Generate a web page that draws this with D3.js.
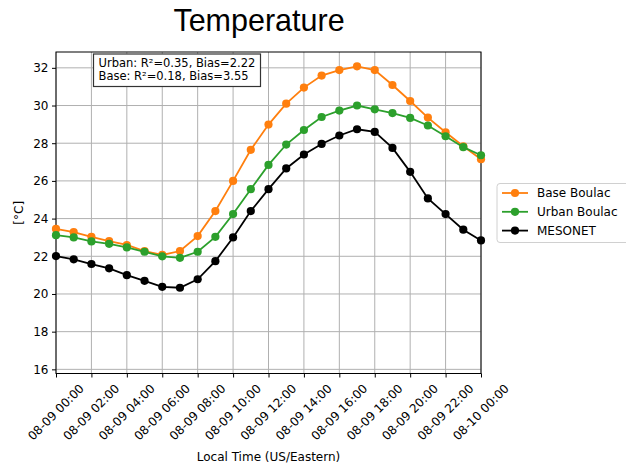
<!DOCTYPE html>
<html>
<head>
<meta charset="utf-8">
<script src="https://cdn.jsdelivr.net/npm/d3@7"></script>
<style>
  html, body { margin: 0; padding: 0; background: #fff; }
  svg { display: block; }
  text { font-family: "DejaVu Sans", sans-serif; fill: #000; }
</style>
</head>
<body>
<svg id="chart" width="626" height="467"></svg>
<script>
// Hourly temperature, 08-09 00:00 through 08-10 00:00 (US/Eastern)
const hours = d3.range(0, 25);
const baseBoulac = [23.45, 23.28, 23.03, 22.81, 22.60, 22.28, 22.07, 22.28, 23.07, 24.40, 26.00, 27.65, 28.99,
                    30.10, 30.95, 31.59, 31.88, 32.08, 31.88, 31.09, 30.24, 29.36, 28.58, 27.84, 27.15];
const urbanBoulac = [23.12, 23.00, 22.79, 22.66, 22.47, 22.24, 22.00, 21.92, 22.24, 23.03, 24.24, 25.56, 26.85,
                     27.93, 28.70, 29.39, 29.73, 30.00, 29.80, 29.60, 29.34, 28.94, 28.37, 27.79, 27.36];
const mesonet = [22.01, 21.84, 21.59, 21.36, 21.00, 20.70, 20.38, 20.33, 20.78, 21.74, 23.00, 24.40, 25.56,
                 26.66, 27.40, 27.96, 28.41, 28.74, 28.60, 27.75, 26.48, 25.07, 24.24, 23.41, 22.84];
const seriesNames = ["Base Boulac", "Urban Boulac", "MESONET"];
const seriesColors = ["#ff7f0e", "#2ca02c", "#000000"];
const yTicks = [16, 18, 20, 22, 24, 26, 28, 30, 32];
const xTickHours = d3.range(0, 25, 2);
const xTickLabels = ["08-09 00:00", "08-09 02:00", "08-09 04:00", "08-09 06:00", "08-09 08:00", "08-09 10:00",
                     "08-09 12:00", "08-09 14:00", "08-09 16:00", "08-09 18:00", "08-09 20:00", "08-09 22:00",
                     "08-10 00:00"];
const statLines = ["Urban: R\u00b2=0.35, Bias=2.22", "Base: R\u00b2=0.18, Bias=3.55"];

const svg = d3.select("#chart");
const pLeft = 56, pRight = 481, pTop = 52, pBottom = 373.5;
const fs = 12;

const x = d3.scaleLinear().domain([0, 24]).range([pLeft, pRight]);
const y = d3.scaleLinear().domain([15.78, 32.84]).range([pBottom, pTop]);

// Title
svg.append("text")
  .attr("x", 259).attr("y", 31)
  .attr("text-anchor", "middle")
  .style("font-family", "'Liberation Sans', Arial, sans-serif")
  .style("font-size", "30.5px")
  .text("Temperature");

// Grid
const grid = svg.append("g").attr("stroke", "#b0b0b0").attr("stroke-width", 1);
grid.selectAll("line.gx").data(xTickHours).join("line")
  .attr("x1", d => x(d)).attr("x2", d => x(d)).attr("y1", pTop).attr("y2", pBottom);
grid.selectAll("line.gy").data(yTicks).join("line")
  .attr("x1", pLeft).attr("x2", pRight).attr("y1", d => y(d)).attr("y2", d => y(d));

// Axes
const yAxis = d3.axisLeft(y).tickValues(yTicks).tickSize(4).tickPadding(3.5);
const gy = svg.append("g").attr("transform", `translate(${pLeft},0)`).call(yAxis);
gy.select(".domain").remove();
gy.selectAll("text").style("font-size", fs + "px").style("font-family", "'DejaVu Sans', sans-serif");

const xAxis = d3.axisBottom(x).tickValues(xTickHours).tickSize(4).tickFormat("");
const gx = svg.append("g").attr("transform", `translate(0,${pBottom})`).call(xAxis);
gx.select(".domain").remove();

// Rotated x tick labels, centred under each tick
const labelTop = pBottom + 4 + 4;
const xl = svg.append("g");
xTickHours.forEach((h, i) => {
  const t = xl.append("text")
    .style("font-size", fs + "px")
    .attr("text-anchor", "middle")
    .attr("dominant-baseline", "central")
    .text(xTickLabels[i]);
  const w = t.node().getComputedTextLength();
  const hgt = fs * 1.16;
  const H = (w + hgt) * Math.SQRT1_2;
  const cx = x(h), cy = labelTop + H / 2;
  t.attr("x", cx).attr("y", cy).attr("transform", `rotate(-45,${cx},${cy})`);
});

// Frame
svg.append("rect")
  .attr("x", pLeft).attr("y", pTop).attr("width", pRight - pLeft).attr("height", pBottom - pTop)
  .attr("fill", "none").attr("stroke", "#000").attr("stroke-width", 1);

// Axis labels
svg.append("text")
  .attr("x", (pLeft + pRight) / 2).attr("y", 461)
  .attr("text-anchor", "middle").style("font-size", fs + "px")
  .text("Local Time (US/Eastern)");
svg.append("text")
  .attr("transform", `translate(23,${(pTop + pBottom) / 2}) rotate(-90)`)
  .attr("text-anchor", "middle").style("font-size", fs + "px")
  .text("[\u00b0C]");

// Series
const allSeries = [baseBoulac, urbanBoulac, mesonet];
const line = d3.line().x((d, i) => x(hours[i])).y(d => y(d));
const plot = svg.append("g");
allSeries.forEach((vals, k) => {
  const g = plot.append("g");
  g.append("path").datum(vals)
    .attr("d", line).attr("fill", "none")
    .attr("stroke", seriesColors[k]).attr("stroke-width", 1.8);
  g.selectAll("circle").data(vals).join("circle")
    .attr("cx", (d, i) => x(hours[i])).attr("cy", d => y(d))
    .attr("r", 4.1).attr("fill", seriesColors[k]);
});

// Statistics box
const sb = svg.append("g");
sb.append("rect")
  .attr("x", 93.5).attr("y", 54).attr("width", 167).attr("height", 32.5)
  .attr("fill", "#fff").attr("stroke", "#333").attr("stroke-width", 1.2);
statLines.forEach((s, i) => {
  sb.append("text").attr("x", 98.5).attr("y", 67 + i * 12.6)
    .style("font-size", "11.5px").text(s);
});

// Legend
const lg = svg.append("g");
lg.append("rect")
  .attr("x", 497).attr("y", 183.5).attr("width", 135).attr("height", 59)
  .attr("rx", 3).attr("fill", "#fff").attr("stroke", "#d0d0d0").attr("stroke-width", 1);
seriesNames.forEach((name, k) => {
  const ly = 193 + k * 18.8;
  lg.append("line").attr("x1", 502).attr("x2", 528).attr("y1", ly).attr("y2", ly)
    .attr("stroke", seriesColors[k]).attr("stroke-width", 1.8);
  lg.append("circle").attr("cx", 515).attr("cy", ly).attr("r", 4.1).attr("fill", seriesColors[k]);
  lg.append("text").attr("x", 537).attr("y", ly).attr("dominant-baseline", "central")
    .style("font-size", fs + "px").text(name);
});
</script>
</body>
</html>
